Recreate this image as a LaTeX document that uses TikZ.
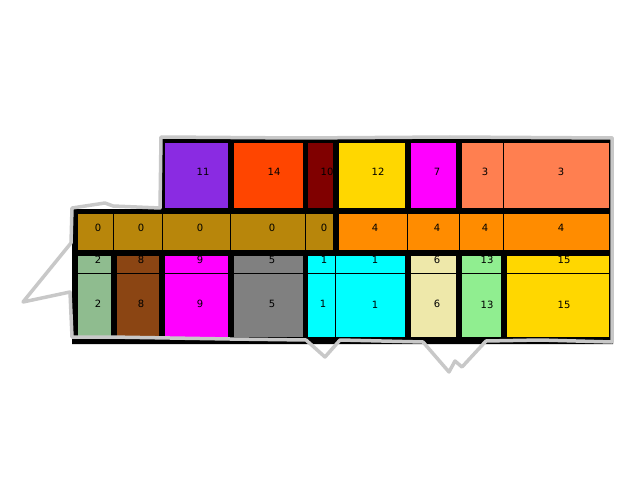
\documentclass[tikz,border=0pt]{standalone}
\usepackage{fontspec}
\setmainfont{DejaVu Sans}
\definecolor{cblueviolet}{HTML}{8A2BE2}
\definecolor{corangered}{HTML}{FF4500}
\definecolor{cmaroon}{HTML}{800000}
\definecolor{cgold}{HTML}{FFD700}
\definecolor{cmagenta}{HTML}{FF00FF}
\definecolor{ccoral}{HTML}{FF7F50}
\definecolor{cdgold}{HTML}{B8860B}
\definecolor{cdorange}{HTML}{FF8C00}
\definecolor{cdsgreen}{HTML}{8FBC8F}
\definecolor{csbrown}{HTML}{8B4513}
\definecolor{cgray}{HTML}{808080}
\definecolor{ccyan}{HTML}{00FFFF}
\definecolor{cpgold}{HTML}{EEE8AA}
\definecolor{clgreen}{HTML}{90EE90}
\definecolor{coutl}{RGB}{200,200,200}
\tikzset{
  cell/.style={draw=black,line width=0.8pt},
  lab/.style={font=\fontsize{10}{12}\selectfont, inner sep=0pt, text=black},
  outline/.style={draw=coutl, line width=3.5pt, line join=round, line cap=round}
}
\newcommand\mycell[5]{\filldraw[cell,fill=#5] (#1,#2) rectangle (#3,#4);}
\newcommand\lowcell[3]{\mycell{#1}{255}{#2}{273}{#3}\mycell{#1}{273}{#2}{337}{#3}}
\begin{document}
\begin{tikzpicture}[x=1pt,y=-1pt]
\useasboundingbox (0,0) rectangle (640,500);
% black walls
\fill[black] (72,209) -- (161,209) -- (161,137) -- (613,137) -- (613,344) -- (72,344) -- cycle;
% top row
\mycell{164}{142}{228}{208}{cblueviolet}
\mycell{233}{142}{303}{208}{corangered}
\mycell{307}{142}{333}{208}{cmaroon}
\mycell{338}{142}{405}{208}{cgold}
\mycell{410}{142}{456}{208}{cmagenta}
\mycell{461}{142}{503}{208}{ccoral}
\mycell{503}{142}{609}{208}{ccoral}
% middle row
\mycell{77}{213}{113}{250}{cdgold}
\mycell{113}{213}{162}{250}{cdgold}
\mycell{162}{213}{230}{250}{cdgold}
\mycell{230}{213}{305}{250}{cdgold}
\mycell{305}{213}{333}{250}{cdgold}
\mycell{338}{213}{407}{250}{cdorange}
\mycell{407}{213}{459}{250}{cdorange}
\mycell{459}{213}{503}{250}{cdorange}
\mycell{503}{213}{609}{250}{cdorange}
% lower rows
\lowcell{77}{111}{cdsgreen}
\lowcell{116}{159}{csbrown}
\lowcell{164}{228}{cmagenta}
\lowcell{233}{303}{cgray}
\lowcell{307}{335}{ccyan}
\lowcell{335}{405}{ccyan}
\lowcell{410}{456}{cpgold}
\lowcell{461}{501}{clgreen}
\lowcell{506}{609}{cgold}
% labels top
\node[lab] (t11) at (203,172) {11};
\node[lab] (t14) at (274,172) {14};
\node[lab] (t10) at (327,172) {10};
\node[lab] (t12) at (378,172) {12};
\node[lab] (t7) at (437,172) {7};
\node[lab] (t3a) at (485,172) {3};
\node[lab] (t3b) at (561,172) {3};
% labels middle
\node[lab] (m0a) at (98,228) {0};
\node[lab] (m0b) at (141,228) {0};
\node[lab] (m0c) at (200,228) {0};
\node[lab] (m0d) at (272,228) {0};
\node[lab] (m0e) at (324,228) {0};
\node[lab] (m4a) at (375,228) {4};
\node[lab] (m4b) at (437,228) {4};
\node[lab] (m4c) at (485,228) {4};
\node[lab] (m4d) at (561,228) {4};
% labels lower strip
\node[lab] (s2) at (98,260) {2};
\node[lab] (s8) at (141,260) {8};
\node[lab] (s9) at (200,260) {9};
\node[lab] (s5) at (272,260) {5};
\node[lab] (s1a) at (324,260) {1};
\node[lab] (s1b) at (375,260) {1};
\node[lab] (s6) at (437,260) {6};
\node[lab] (s13) at (487,260) {13};
\node[lab] (s15) at (564,260) {15};
% labels lower main
\node[lab] (l2) at (98,304) {2};
\node[lab] (l8) at (141,304) {8};
\node[lab] (l9) at (200,304) {9};
\node[lab] (l5) at (272,304) {5};
\node[lab] (l1a) at (323,304) {1};
\node[lab] (l1b) at (375,305) {1};
\node[lab] (l6) at (437,304) {6};
\node[lab] (l13) at (487,305) {13};
\node[lab] (l15) at (564,305) {15};
% gray outline
\draw[outline] (161,137) -- (300,138) -- (450,137) -- (612,138) -- (612,342)
  -- (540,340) -- (486,341) -- (462,367) -- (455,361) -- (449,372) -- (423,342)
  -- (340,340) -- (325,357) -- (306,340) -- (230,339) -- (110,337) -- (72,337)
  -- (70,292) -- (23,302) -- (71,243) -- (72,208) -- (105,203) -- (113,206)
  -- (160,208) -- cycle;
\end{tikzpicture}
\end{document}
